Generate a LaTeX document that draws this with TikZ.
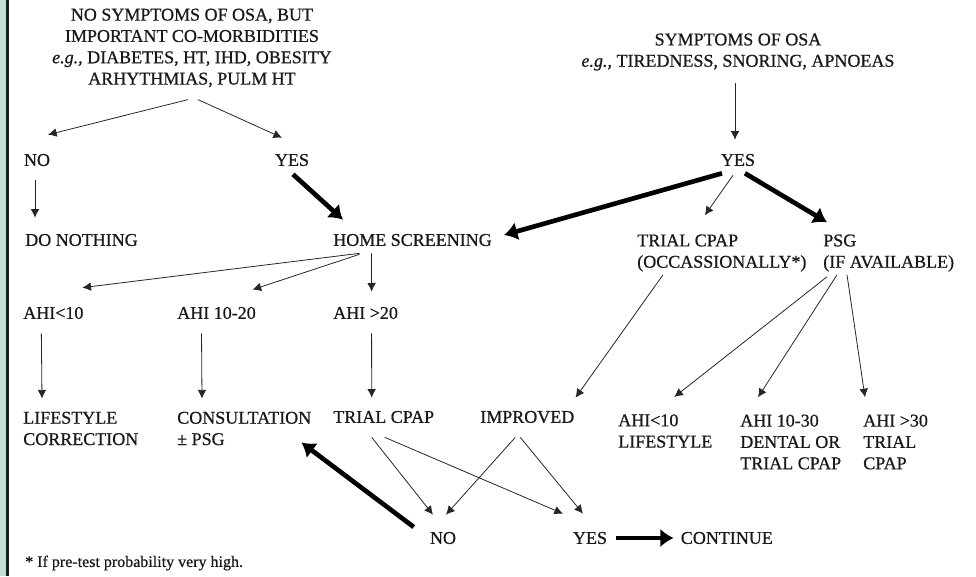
\documentclass[tikz,border=0pt]{standalone}
\usepackage{fontspec}
\setmainfont{Liberation Serif}[FakeBold=0.7]
\usepackage{tikz}
\usetikzlibrary{arrows.meta,positioning}
\tikzset{>=Latex}
\definecolor{stripteal}{HTML}{C3DDD5}
\definecolor{stripdark}{HTML}{10201A}

\begin{document}
\begin{tikzpicture}[x=0.75pt,y=-0.75pt,
plainnode/.style={inner sep=0pt, font=\fontsize{13.5}{16}\selectfont, text=black!90},
leftnode/.style={plainnode, anchor=west, align=left},
thinarrow/.style={->, >={Latex[length=6.5pt,width=6.5pt]}, line width=0.6pt, draw=black!85},
boldarrow/.style={->, >={Latex[length=10pt,width=14pt]}, line width=3.5pt, draw=black},
]
\useasboundingbox (0,0) rectangle (976,576);
\fill[stripteal] (0,0) rectangle (6,576);
\fill[stripdark] (6,0) rectangle (9,576);

%Nodes
\node[plainnode, align=center](Comorb) at (192,48){NO SYMPTOMS OF OSA, BUT\\IMPORTANT CO-MORBIDITIES\\\textit{e.g.,} DIABETES, HT, IHD, OBESITY\\ARHYTHMIAS, PULM HT};
\node[plainnode](NoA) at (37,160){NO};
\node[plainnode](YesA) at (292,160){YES};
\node[leftnode](Nothing) at (25,240){DO NOTHING};
\node[leftnode](Home) at (333,240){HOME SCREENING};

\node[plainnode, align=center](Sympt) at (738,52){SYMPTOMS OF OSA\\\textit{e.g.,} TIREDNESS, SNORING, APNOEAS};
\node[plainnode](YesB) at (738,160){YES};
\node[leftnode](TrialA) at (637,253){TRIAL CPAP\\(OCCASSIONALLY*)};
\node[leftnode](Psg) at (823,253){PSG\\(IF AVAILABLE)};

\node[leftnode](Low) at (23,313){AHI<10};
\node[leftnode](Mid) at (177,313){AHI 10-20};
\node[leftnode](High) at (333,313){AHI >20};

\node[leftnode](Life) at (23,428.5){LIFESTYLE\\CORRECTION};
\node[leftnode](Consult) at (177,428.5){CONSULTATION\\± PSG};
\node[leftnode](TrialB) at (333,417){TRIAL CPAP};
\node[leftnode](Improved) at (480,417){IMPROVED};
\node[leftnode](Rlow) at (618,431){AHI<10\\LIFESTYLE};
\node[leftnode](Rmid) at (740,442){AHI 10-30\\DENTAL OR\\TRIAL CPAP};
\node[leftnode](Rhigh) at (863,442){AHI >30\\TRIAL\\CPAP};

\node[plainnode](NoB) at (443,538){NO};
\node[plainnode](YesC) at (590,538){YES};
\node[plainnode](Continue)[right=55pt of YesC]{CONTINUE};

\node[leftnode, font=\fontsize{12}{14}\selectfont](Note) at (25,563){* If pre-test probability very high.};

%Lines
\draw[thinarrow] ([shift={(-4,12)}]Comorb.south) -- ([shift={(11,-19)}]NoA.north);
\draw[thinarrow] ([shift={(6,12)}]Comorb.south) -- ([shift={(-10,-16)}]YesA.north);
\draw[thinarrow] ([shift={(-2,14)}]NoA.south) -- ([shift={(10,-16)}]Nothing.north west);
\draw[boldarrow] ([shift={(1,8)}]YesA.south) -- ([shift={(10,-14)}]Home.north west);

\draw[thinarrow] ([shift={(-3,12)}]Sympt.south) -- ([shift={(-3,-14)}]YesB.north);
\draw[boldarrow] ([shift={(-16,7)}]YesB.south) -- ([shift={(12,-5)}]Home.east);
\draw[thinarrow] ([shift={(-5,9)}]YesB.south) -- ([shift={(-17,-19)}]TrialA.north);
\draw[boldarrow] ([shift={(7,7)}]YesB.south) -- ([shift={(4,-12)}]Psg.north west);

\draw[thinarrow] ([shift={(-53,7)}]Home.south) -- ([shift={(29,-19)}]Low.north);
\draw[thinarrow] ([shift={(-53,8)}]Home.south) -- ([shift={(36,-17)}]Mid.north);
\draw[thinarrow] ([shift={(-41,7)}]Home.south) -- ([shift={(6,-15)}]High.north);

\draw[thinarrow] ([shift={(-12,14)}]Low.south) -- ([shift={(19,-13)}]Life.north west);
\draw[thinarrow] ([shift={(-15,14)}]Mid.south) -- ([shift={(25,-13)}]Consult.north west);
\draw[thinarrow] ([shift={(6,14)}]High.south) -- ([shift={(-12,-13)}]TrialB.north);

\draw[thinarrow] ([shift={(26,3)}]TrialA.south west) -- ([shift={(1,-13)}]Improved.north east);
\draw[thinarrow] ([shift={(4,5)}]Psg.south west) -- ([shift={(9,-17)}]Rlow.north);
\draw[thinarrow] ([shift={(14,3)}]Psg.south west) -- ([shift={(18,-17)}]Rmid.north west);
\draw[thinarrow] ([shift={(24,3)}]Psg.south west) -- ([shift={(2,-17)}]Rhigh.north west);

\draw[thinarrow] ([shift={(-12,14)}]TrialB.south) -- ([shift={(-10,-17)}]NoB.north);
\draw[thinarrow] ([shift={(1,14)}]TrialB.south) -- ([shift={(-27,-18)}]YesC.north);
\draw[thinarrow] ([shift={(-12,14)}]Improved.south) -- ([shift={(3,-17)}]NoB.north);
\draw[thinarrow] ([shift={(-7,14)}]Improved.south) -- ([shift={(-7,-18)}]YesC.north);

\draw[boldarrow] ([shift={(-16,-11)}]NoB.west) -- ([shift={(-10,14)}]Consult.east);
\draw[boldarrow] ([shift={(9,0)}]YesC.east) -- ([shift={(-7,0)}]Continue.west);
\end{tikzpicture}
\end{document}
